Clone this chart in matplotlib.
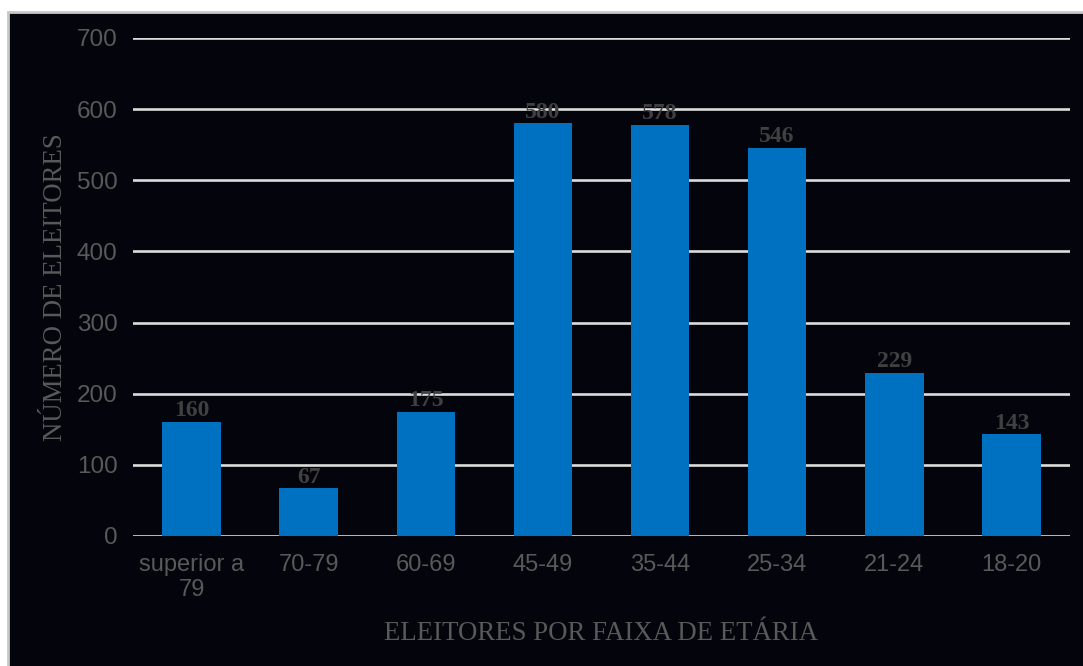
import matplotlib.pyplot as plt
from matplotlib.patches import Rectangle

faixas = ["superior a\n79", "70-79", "60-69", "45-49", "35-44", "25-34", "21-24", "18-20"]
eleitores = [160, 67, 175, 580, 578, 546, 229, 143]
y_ticks = [0, 100, 200, 300, 400, 500, 600, 700]

bg = "#04040c"
fig = plt.figure(figsize=(10.83, 6.66), dpi=100)
fig.patch.set_facecolor("white")

# dark panel, grey border only shows on the left and top edges
panel = Rectangle((8 / 1083, -0.05), 1.05, 1.05 - 12 / 666, transform=fig.transFigure,
                  facecolor=bg, edgecolor="#c8c8c8", linewidth=2, zorder=-10)
fig.patches.append(panel)

ax = fig.add_axes([133 / 1083, 1 - 536 / 666, (1070 - 133) / 1083, (536 - 38) / 666])
ax.set_zorder(1)
ax.patch.set_alpha(0)

x = range(len(faixas))
bars = ax.bar(x, eleitores, width=0.5, color="#0070c0", zorder=3)

ax.set_xlim(-0.5, len(faixas) - 0.5)
ax.set_ylim(0, 700)
ax.set_yticks(y_ticks)
ax.yaxis.grid(True, color="#dcdcdc", linewidth=1.9, zorder=1)
ax.set_axisbelow(True)
for s in ax.spines.values():
    s.set_visible(False)

ax.set_xticks(list(x))
ax.set_xticklabels(faixas, fontsize=17, color="#595959", family="Liberation Sans",
                   linespacing=1.2)
ax.tick_params(axis="x", length=0, pad=13)
ax.tick_params(axis="y", length=0, pad=11, labelsize=17.5, labelcolor="#595959")
for lbl in ax.get_yticklabels():
    lbl.set_family("Liberation Sans")

for b, v in zip(bars, eleitores):
    ax.annotate(str(v), (b.get_x() + b.get_width() / 2, v), xytext=(0, 0.5),
                textcoords="offset points", ha="center", va="bottom",
                fontsize=17, fontweight="bold", color="#404040",
                family="Liberation Serif", zorder=4)

fig.text(601 / 1083, 1 - 634 / 666, "ELEITORES POR FAIXA DE ETÁRIA", ha="center", va="center",
         fontsize=19.3, color="#595959", family="Liberation Serif")
fig.text(56 / 1083, 1 - 287 / 666, "NÚMERO DE ELEITORES", ha="center", va="center",
         rotation=90, fontsize=19.3, color="#595959", family="Liberation Serif")

fig.savefig("out.png", dpi=100, facecolor=fig.get_facecolor())
